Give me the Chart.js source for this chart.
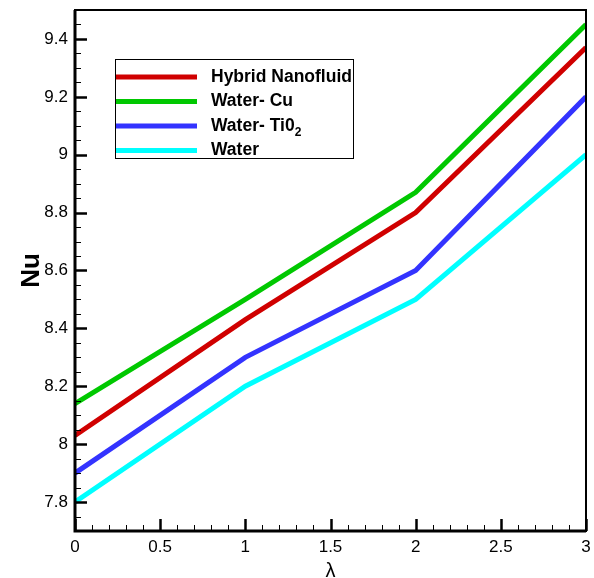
<!DOCTYPE html>
<html>
<head>
<meta charset="utf-8">
<script src="https://cdn.jsdelivr.net/npm/chart.js@4.4.1/dist/chart.umd.min.js"></script>
<style>
  html, body { margin: 0; padding: 0; background: #fff; }
  #wrap { width: 594px; height: 578px; }
</style>
</head>
<body>
<div id="wrap"><canvas id="nu"></canvas></div>
<script>
const lambdaValues = [0, 1, 2, 3];
const hybridNu = [8.03, 8.43, 8.80, 9.37];
const cuNu = [8.14, 8.50, 8.87, 9.45];
const tiNu = [7.90, 8.30, 8.60, 9.20];
const waterNu = [7.80, 8.20, 8.50, 9.00];

const xTicks = [0, 0.5, 1, 1.5, 2, 2.5, 3];
const yTicks = [7.8, 8.0, 8.2, 8.4, 8.6, 8.8, 9.0, 9.2, 9.4];

const seriesNames = ['Hybrid Nanofluid', 'Water- Cu', 'Water- Ti0', 'Water'];
const seriesColors = ['#d00000', '#00c800', '#3333ff', '#00ffff'];
const seriesValues = [hybridNu, cuNu, tiNu, waterNu];

function toPoints(values) {
  return lambdaValues.map((x, i) => ({ x: x, y: values[i] }));
}

// frame, inward ticks and the boxed legend
const framePlugin = {
  id: 'frame',
  afterDraw(chart) {
    const ctx = chart.ctx;
    const area = chart.chartArea;
    const xs = chart.scales.x, ys = chart.scales.y;
    ctx.save();
    ctx.strokeStyle = '#000';

    for (let v = 0; v <= 3.0001; v += 0.1) {
      const px = Math.round(xs.getPixelForValue(v)) + 0.5;
      const major = Math.abs(v * 2 - Math.round(v * 2)) < 1e-6;
      ctx.lineWidth = major ? 2.5 : 1;
      ctx.beginPath();
      ctx.moveTo(px, area.bottom);
      ctx.lineTo(px, area.bottom - (major ? 12 : 6));
      ctx.stroke();
    }
    for (let v = 7.7; v <= 9.5001; v += 0.05) {
      const py = Math.round(ys.getPixelForValue(v)) + 0.5;
      const major = Math.abs(v * 5 - Math.round(v * 5)) < 1e-6;
      ctx.lineWidth = major ? 2.5 : 1;
      ctx.beginPath();
      ctx.moveTo(area.left, py);
      ctx.lineTo(area.left + (major ? 12 : 6), py);
      ctx.stroke();
    }

    ctx.lineWidth = 2;
    ctx.strokeRect(area.left, area.top, area.right - area.left, area.bottom - area.top);
    ctx.lineWidth = 3;
    ctx.beginPath();
    ctx.moveTo(area.left, area.top);
    ctx.lineTo(area.left, area.bottom);
    ctx.lineTo(area.right, area.bottom);
    ctx.stroke();

    // legend
    const bx = 115, by = 59, bw = 238, bh = 99;
    ctx.fillStyle = '#fff';
    ctx.fillRect(bx, by, bw, bh);
    ctx.lineWidth = 1;
    ctx.strokeRect(bx + 0.5, by + 0.5, bw, bh);
    ctx.textBaseline = 'middle';
    seriesNames.forEach((name, i) => {
      const ly = 77 + i * 24.5;
      ctx.strokeStyle = seriesColors[i];
      ctx.lineWidth = 5;
      ctx.beginPath();
      ctx.moveTo(bx + 1, ly);
      ctx.lineTo(197, ly);
      ctx.stroke();
      ctx.fillStyle = '#000';
      ctx.font = 'bold 17.5px "Liberation Sans", Arial, sans-serif';
      ctx.fillText(name, 211, ly);
      if (i === 2) {
        const w = ctx.measureText(name).width;
        ctx.font = 'bold 12px "Liberation Sans", Arial, sans-serif';
        ctx.fillText('2', 211 + w, ly + 7);
      }
    });
    ctx.restore();
  }
};

new Chart(document.getElementById('nu'), {
  type: 'line',
  data: {
    datasets: seriesValues.map((vals, i) => ({
      label: seriesNames[i],
      data: toPoints(vals),
      borderColor: seriesColors[i],
      backgroundColor: seriesColors[i],
      borderWidth: 5,
      pointRadius: 0,
      tension: 0,
      fill: false
    }))
  },
  options: {
    responsive: true,
    maintainAspectRatio: false,
    animation: false,
    layout: { padding: { top: 10, right: 8, left: 0, bottom: 0 } },
    plugins: { legend: { display: false }, tooltip: { enabled: false } },
    scales: {
      x: {
        type: 'linear',
        min: 0, max: 3,
        grid: { display: false, drawTicks: false },
        border: { display: false },
        afterBuildTicks(scale) { scale.ticks = xTicks.map(v => ({ value: v })); },
        ticks: {
          padding: 6,
          color: '#000',
          font: { family: '"Liberation Sans", Arial, sans-serif', size: 17 },
          callback: (v) => String(v)
        },
        title: {
          display: true,
          text: 'λ',
          color: '#000',
          padding: { top: 0, bottom: -5 },
          font: { family: '"Liberation Sans", Arial, sans-serif', size: 20 }
        },
        afterFit(scale) {
          scale.height = 47;
          scale.paddingLeft = 0;
          scale.paddingRight = 0;
        }
      },
      y: {
        min: 7.7, max: 9.5,
        grid: { display: false, drawTicks: false },
        border: { display: false },
        afterBuildTicks(scale) { scale.ticks = yTicks.map(v => ({ value: v })); },
        ticks: {
          padding: 7,
          color: '#000',
          font: { family: '"Liberation Sans", Arial, sans-serif', size: 17 },
          callback: (v) => String(Math.round(v * 10) / 10)
        },
        title: {
          display: true,
          text: 'Nu',
          color: '#000',
          padding: { top: 16, bottom: 0 },
          font: { family: '"Liberation Sans", Arial, sans-serif', size: 26, weight: 'bold' }
        },
        afterFit(scale) {
          scale.width = 75;
          scale.paddingTop = 0;
          scale.paddingBottom = 0;
        }
      }
    }
  },
  plugins: [framePlugin]
});
</script>
</body>
</html>
